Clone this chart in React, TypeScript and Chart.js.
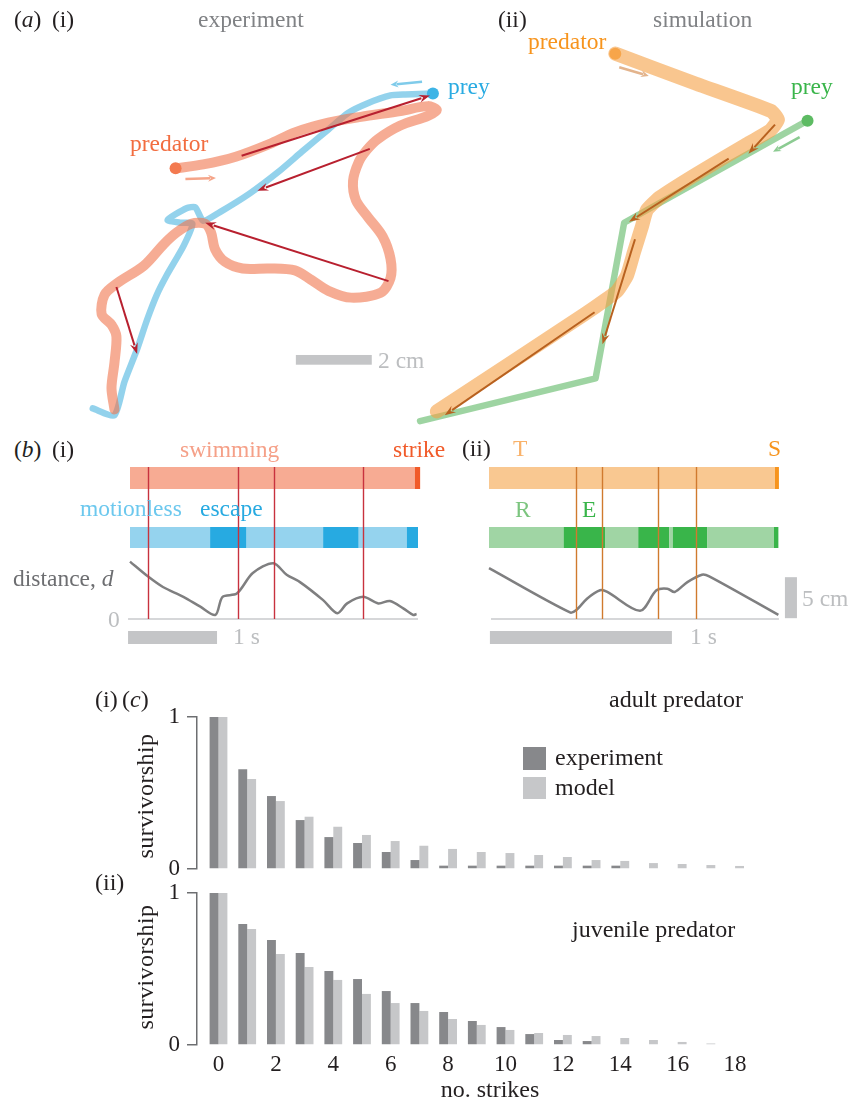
import React, { useEffect, useRef } from "react";
import { Chart, registerables } from "chart.js";

Chart.register(...registerables);

const SERIF = '"Liberation Serif", "Times New Roman", Times, serif';
const INK = "#231F20";
const GREY_TEXT = "#808285";
const LIGHT_TEXT = "#BCBEC0";
const SCALEBAR = "#C4C5C7";

// ================= (a) trajectories (video-frame coordinates, px) =================
const expPredatorPath = [
  [172, 167], [200, 163], [233, 155], [267, 142], [293, 130], [327, 120], [360, 114], [400, 108],
  [428, 103], [437, 107], [428, 113], [400, 123], [377, 137], [366, 148], [358, 160], [352, 180],
  [355, 200], [367, 217], [382, 237], [390, 260], [390, 280], [380, 295], [350, 300], [327, 293],
  [310, 282], [293, 272], [267, 270], [240, 270], [222, 263], [212, 250], [208, 233], [202, 224],
  [188, 224], [173, 233], [160, 245], [140, 267], [113, 285], [100, 297], [97, 317], [107, 328],
  [112, 340], [110, 367], [107, 393], [110, 415],
];
const expPreyPath = [
  [433, 90], [405, 91], [390, 92], [367, 100], [347, 110], [327, 127], [300, 150], [277, 170],
  [247, 193], [217, 212], [200, 221], [192, 207], [183, 208], [164, 220], [177, 223], [189, 224],
  [180, 247], [163, 277], [153, 297], [143, 323], [133, 353], [120, 387], [110, 421], [88, 414],
];
const simPredatorPath = [
  [618, 49], [700, 80], [776, 108], [783, 117], [775, 128], [750, 143], [700, 173], [663, 197],
  [650, 210], [645, 227], [637, 253], [630, 277], [620, 293], [607, 303], [587, 317], [437, 417],
];
const simPreyPath = [[813, 118], [627, 223], [598, 383], [420, 427]];

// strike arrows [x0, y0, x1, y1]
const expStrikeArrows = [[239, 154, 430, 92], [369, 147, 255, 190], [388, 283, 202, 223], [112, 289, 133, 358]];
const simStrikeArrows = [[780, 122, 753, 152], [733, 157, 632, 222], [638, 240, 605, 348], [597, 315, 445, 421]];
// heading arrows
const expPredatorHeading = [182, 178, 213, 177];
const expPreyHeading = [422, 78, 390, 81];
const simPredatorHeading = [622, 63, 652, 72];
const simPreyHeading = [805, 135, 778, 150];
// 2 cm scale bar, frame px
const lengthBar = [294, 359, 371, 369];

// ================= (b) timelines =================
const expPredStateTimes = [0, 3.2, 3.26];
const expPredStates = ["swimming", "strike"];
const expPreyStateTimes = [0, 0.9, 1.31, 2.17, 2.57, 3.11, 3.236];
const expPreyStates = ["motionless", "escape", "motionless", "escape", "motionless", "escape"];
const expStrikeTimes = [0.2, 1.21, 1.62, 2.62];
const expTime = [0, 0.2, 0.37, 0.6, 0.79, 0.96, 1.04, 1.2, 1.38, 1.61, 1.76, 1.91, 2.17, 2.33, 2.44, 2.62, 2.79, 2.92, 3.07, 3.18, 3.22];
const expDistance = [7.0, 5.2, 3.9, 2.7, 1.5, 0.5, 2.7, 3.1, 5.6, 6.8, 5.4, 4.5, 2.3, 0.7, 1.9, 2.7, 1.9, 2.2, 1.3, 0.5, 0.6];

const simPredStateTimes = [0, 1.571, 1.593];
const simPredStates = ["T", "S"];
const simPreyStateTimes = [0, 0.41, 0.64, 0.82, 0.99, 1.01, 1.2, 1.566, 1.59];
const simPreyStates = ["R", "E", "R", "E", "R", "E", "R", "E"];
const simStrikeTimes = [0.48, 0.62, 0.93, 1.14];
const simTime = [0, 0.445, 0.48, 0.54, 0.61, 0.65, 0.83, 0.92, 0.98, 1.02, 1.09, 1.17, 1.21, 1.59];
const simDistance = [6.2, 0.8, 1.1, 2.5, 3.5, 3.3, 1.0, 3.5, 3.7, 3.3, 4.5, 5.4, 5.2, 0.5];

// ================= (c) survivorship =================
const strikeCounts = [0, 1, 2, 3, 4, 5, 6, 7, 8, 9, 10, 11, 12, 13, 14, 15, 16, 17, 18, 19];
const strikeTickValues = [0, 2, 4, 6, 8, 10, 12, 14, 16, 18];
const adultExperiment = [1, 0.656, 0.48, 0.322, 0.21, 0.171, 0.112, 0.059, 0.022, 0.022, 0.022, 0.022, 0.022, 0.022, 0.022, 0, 0, 0, 0, 0];
const adultModel = [1, 0.592, 0.447, 0.344, 0.278, 0.224, 0.184, 0.153, 0.132, 0.112, 0.105, 0.092, 0.079, 0.059, 0.053, 0.039, 0.033, 0.026, 0.02, 0.005];
const juvenileExperiment = [1, 0.796, 0.691, 0.605, 0.487, 0.434, 0.355, 0.276, 0.217, 0.158, 0.118, 0.072, 0.033, 0.026, 0, 0, 0, 0, 0, 0];
const juvenileModel = [1, 0.763, 0.599, 0.513, 0.428, 0.336, 0.276, 0.224, 0.171, 0.132, 0.099, 0.079, 0.066, 0.059, 0.046, 0.033, 0.02, 0.01, 0.005, 0.005];

// ================= helpers =================
function drawArrow(ctx: CanvasRenderingContext2D, x0: number, y0: number, x1: number, y1: number, color: string, width: number, headLen: number, headHalf: number) {
  const ang = Math.atan2(y1 - y0, x1 - x0);
  const bx = x1 - headLen * Math.cos(ang);
  const by = y1 - headLen * Math.sin(ang);
  ctx.save();
  ctx.strokeStyle = color;
  ctx.fillStyle = color;
  ctx.lineWidth = width;
  ctx.lineCap = "butt";
  ctx.beginPath();
  ctx.moveTo(x0, y0);
  ctx.lineTo(bx + 2 * Math.cos(ang), by + 2 * Math.sin(ang));
  ctx.stroke();
  ctx.beginPath();
  ctx.moveTo(x1, y1);
  ctx.lineTo(bx + headHalf * Math.sin(ang), by - headHalf * Math.cos(ang));
  ctx.lineTo(bx + 0.35 * headLen * Math.cos(ang), by + 0.35 * headLen * Math.sin(ang));
  ctx.lineTo(bx - headHalf * Math.sin(ang), by + headHalf * Math.cos(ang));
  ctx.closePath();
  ctx.fill();
  ctx.restore();
}

const baseOptions = {
  animation: false,
  responsive: false,
  maintainAspectRatio: false,
  devicePixelRatio: 1,
  events: [],
};

function ChartBox({ left, top, width, height, config }: any) {
  const ref = useRef<HTMLCanvasElement>(null);
  useEffect(() => {
    const chart = new Chart(ref.current as HTMLCanvasElement, config());
    return () => chart.destroy();
  }, []);
  return (
    <canvas
      ref={ref}
      width={width}
      height={height}
      style={{ position: "absolute", left, top, width, height, display: "block" }}
    />
  );
}

// ================= (a) config =================
const FRAME_W = 851;
const FRAME_H = 430;

function trajectoryConfig() {
  const path = (pts: number[][], color: string, width: number, dot: string, tension: number) => ({
    data: pts.map(([x, y]) => ({ x, y })),
    showLine: true,
    borderColor: color,
    borderWidth: width,
    borderCapStyle: "round",
    borderJoinStyle: "round",
    tension,
    pointRadius: (c: any) => (c.dataIndex === 0 ? 6 : 0),
    pointBackgroundColor: dot,
    pointBorderWidth: 0,
    pointHoverRadius: 0,
    clip: false,
  });
  const arrows = {
    id: "trajectoryArrows",
    afterDatasetsDraw(chart: any) {
      const ctx = chart.ctx;
      const X = (v: number) => chart.scales.x.getPixelForValue(v);
      const Y = (v: number) => chart.scales.y.getPixelForValue(v);
      const [bx0, by0, bx1, by1] = lengthBar;
      ctx.fillStyle = SCALEBAR;
      ctx.fillRect(X(bx0), Y(by0), X(bx1) - X(bx0), Y(by1) - Y(by0));
      const heading = (a: number[], color: string) => drawArrow(ctx, X(a[0]), Y(a[1]), X(a[2]), Y(a[3]), color, 2.6, 8, 3.5);
      heading(expPredatorHeading, "#F5A589");
      heading(expPreyHeading, "#7FCBEA");
      heading(simPredatorHeading, "#E3B48D");
      heading(simPreyHeading, "#8CCB92");
      expStrikeArrows.forEach((a) => drawArrow(ctx, X(a[0]), Y(a[1]), X(a[2]), Y(a[3]), "#B8202F", 2, 11, 4));
      simStrikeArrows.forEach((a) => drawArrow(ctx, X(a[0]), Y(a[1]), X(a[2]), Y(a[3]), "#B8611F", 2, 11, 4));
    },
  };
  return {
    type: "scatter",
    data: {
      datasets: [
        path(expPredatorPath, "rgba(240,117,77,0.6)", 10, "#F37A50", 0.3),
        path(expPreyPath, "rgba(75,180,223,0.6)", 6.5, "#3DB4E6", 0.2),
        path(simPredatorPath, "rgba(245,160,68,0.6)", 14, "#F7A54A", 0.15),
        path(simPreyPath, "rgba(93,183,100,0.6)", 6.5, "#5DBB63", 0),
      ],
    },
    options: {
      ...baseOptions,
      layout: { padding: 0 },
      plugins: { legend: { display: false }, tooltip: { enabled: false } },
      scales: {
        x: { type: "linear", min: 0, max: FRAME_W, display: false },
        y: { type: "linear", min: 0, max: FRAME_H, reverse: true, display: false },
      },
    },
    plugins: [arrows],
  };
}

// ================= (b) config =================
const B_I = { left: 100, top: 440, width: 345, height: 215, t0: 130, pxPerSec: 89, d0: 619, pxPerCm: 8.2 };
const B_II = { left: 460, top: 440, width: 391, height: 215, t0: 489, pxPerSec: 182, d0: 619, pxPerCm: 8.2 };

function timelineConfig(L: any, s: any) {
  const xMin = (L.left - L.t0) / L.pxPerSec;
  const xMax = xMin + L.width / L.pxPerSec;
  const yMax = (L.d0 - L.top) / L.pxPerCm;
  const yMin = yMax - L.height / L.pxPerCm;
  const lane = (px: number) => (L.d0 - px) / L.pxPerCm;
  const predLane = lane(478);
  const preyLane = lane(537.5);
  const laneDs = (times: number[], states: string[], colors: any, y: number, thick: number) => ({
    data: times.map((t) => ({ x: t, y })),
    showLine: true,
    borderWidth: thick,
    borderCapStyle: "butt",
    borderJoinStyle: "miter",
    pointRadius: 0,
    tension: 0,
    borderColor: colors[states[0]],
    segment: { borderColor: (c: any) => colors[states[c.p0DataIndex]] },
    clip: false,
  });
  const extras = {
    id: "timelineExtras",
    beforeDatasetsDraw(chart: any) {
      const ctx = chart.ctx;
      const X = (v: number) => chart.scales.x.getPixelForValue(v);
      const Y = (v: number) => chart.scales.y.getPixelForValue(v);
      ctx.save();
      ctx.strokeStyle = "#C9CACC";
      ctx.lineWidth = 1.5;
      ctx.beginPath();
      ctx.moveTo(X(s.baseline[0]), Y(0));
      ctx.lineTo(X(s.baseline[1]), Y(0));
      ctx.stroke();
      ctx.fillStyle = SCALEBAR;
      s.rects.forEach((r: number[]) => {
        const x0 = X(r[0]), x1 = X(r[1]), y0 = Y(r[2]), y1 = Y(r[3]);
        ctx.fillRect(Math.min(x0, x1), Math.min(y0, y1), Math.abs(x1 - x0), Math.abs(y1 - y0));
      });
      ctx.restore();
    },
    afterDatasetsDraw(chart: any) {
      const ctx = chart.ctx;
      const X = (v: number) => chart.scales.x.getPixelForValue(v);
      const Y = (v: number) => chart.scales.y.getPixelForValue(v);
      const top = Y(predLane) - 11;
      ctx.save();
      ctx.strokeStyle = s.eventColor;
      ctx.lineWidth = 1.4;
      s.events.forEach((t: number) => {
        ctx.beginPath();
        ctx.moveTo(Math.round(X(t)) + 0.5, top);
        ctx.lineTo(Math.round(X(t)) + 0.5, Y(0));
        ctx.stroke();
      });
      ctx.restore();
    },
  };
  return {
    type: "scatter",
    data: {
      datasets: [
        laneDs(s.predTimes, s.predStates, s.predColors, predLane, 22),
        laneDs(s.preyTimes, s.preyStates, s.preyColors, preyLane, 21),
        {
          data: s.time.map((t: number, i: number) => ({ x: t, y: s.dist[i] })),
          showLine: true,
          borderColor: "#7F7F80",
          borderWidth: 2.5,
          pointRadius: 0,
          tension: 0.3,
          borderJoinStyle: "round",
        },
      ],
    },
    options: {
      ...baseOptions,
      layout: { padding: 0 },
      plugins: { legend: { display: false }, tooltip: { enabled: false } },
      scales: {
        x: { type: "linear", min: xMin, max: xMax, display: false },
        y: { type: "linear", min: yMin, max: yMax, display: false },
      },
    },
    plugins: [extras],
  };
}

const expTimeline = () =>
  timelineConfig(B_I, {
    predTimes: expPredStateTimes,
    predStates: expPredStates,
    predColors: { swimming: "#F7AB93", strike: "#F15A29" },
    preyTimes: expPreyStateTimes,
    preyStates: expPreyStates,
    preyColors: { motionless: "#95D3EE", escape: "#27AAE1" },
    events: expStrikeTimes,
    eventColor: "#C8323E",
    time: expTime,
    dist: expDistance,
    baseline: [-0.022, 3.236],
    rects: [[-0.022, 0.978, (619 - 631) / 8.2, (619 - 644) / 8.2]],
  });

const simTimeline = () =>
  timelineConfig(B_II, {
    predTimes: simPredStateTimes,
    predStates: simPredStates,
    predColors: { T: "#F9C891", S: "#F7941D" },
    preyTimes: simPreyStateTimes,
    preyStates: simPreyStates,
    preyColors: { R: "#A0D5A4", E: "#39B54A" },
    events: simStrikeTimes,
    eventColor: "#D07A2E",
    time: simTime,
    dist: simDistance,
    baseline: [0.011, 1.593],
    rects: [
      [0.005, 1.005, (619 - 631) / 8.2, (619 - 644) / 8.2],
      [1.626, 1.692, 0.1, 5.1],
    ],
  });

// ================= (c) config =================
const C = { left: 100, width: 700, axisX: 197, cat0: 218.5, catStep: 28.7, maxValue: 19.6 };
const AXIS = "#6D6E71";

function survivalConfig(exp: number[], model: number[], showX: boolean, padTop: number, padBottom: number) {
  const xMin = -(C.cat0 - C.axisX) / C.catStep;
  const rightPx = C.axisX + (C.maxValue - xMin) * C.catStep;
  const padRight = C.left + C.width - rightPx;
  const bars = (vals: number[], color: string, label: string) => ({
    label,
    data: strikeCounts.map((n, i) => ({ x: n, y: vals[i] })),
    backgroundColor: color,
    categoryPercentage: 0.62,
    barPercentage: 1,
    borderWidth: 0,
  });
  return {
    type: "bar",
    data: { datasets: [bars(exp, "#87888B", "experiment"), bars(model, "#C6C7C9", "model")] },
    options: {
      ...baseOptions,
      layout: { padding: { top: padTop, bottom: padBottom, left: 0, right: padRight } },
      plugins: { legend: { display: false }, tooltip: { enabled: false } },
      scales: {
        x: {
          type: "linear",
          min: xMin,
          max: C.maxValue,
          bounds: "data",
          offset: false,
          display: showX,
          grid: { display: false, drawTicks: false, offset: false },
          border: { display: false },
          ticks: { font: { family: SERIF, size: 23 }, color: INK, padding: 6, maxRotation: 0, autoSkip: false },
          afterBuildTicks: (ax: any) => {
            ax.ticks = strikeTickValues.map((v) => ({ value: v }));
          },
          afterFit: (ax: any) => {
            ax.height = showX ? 56 : 0;
          },
        },
        y: {
          type: "linear",
          min: 0,
          max: 1,
          bounds: "data",
          grid: { drawOnChartArea: false, drawTicks: true, tickLength: 10, color: AXIS, lineWidth: 1.5 },
          border: { display: true, color: AXIS, width: 1.5 },
          ticks: { font: { family: SERIF, size: 23 }, color: INK, padding: 7 },
          afterBuildTicks: (ax: any) => {
            ax.ticks = [{ value: 0 }, { value: 1 }];
          },
          afterFit: (ax: any) => {
            ax.width = C.axisX - C.left;
          },
        },
      },
    },
  };
}

// ================= text =================
function T({ x, b, size = 23.5, color = INK, anchor = "start", children }: any) {
  return (
    <div
      style={{
        position: "absolute",
        left: x,
        top: b - 0.8375 * size,
        fontSize: size,
        lineHeight: `${size}px`,
        fontFamily: SERIF,
        color,
        whiteSpace: "nowrap",
        transform: anchor === "middle" ? "translateX(-50%)" : undefined,
      }}
    >
      {children}
    </div>
  );
}

function VLabel({ cx, cy, children }: any) {
  return (
    <div
      style={{
        position: "absolute",
        left: cx,
        top: cy,
        fontSize: 24,
        lineHeight: "24px",
        fontFamily: SERIF,
        color: INK,
        whiteSpace: "nowrap",
        transform: "translate(-50%, -50%) rotate(-90deg)",
        letterSpacing: 0.4,
      }}
    >
      {children}
    </div>
  );
}

function Swatch({ x, y, w, h, color }: any) {
  return <div style={{ position: "absolute", left: x, top: y, width: w, height: h, background: color }} />;
}

export default function App() {
  useEffect(() => {
    document.body.style.margin = "0";
  }, []);
  return (
    <div style={{ position: "absolute", left: 0, top: 0, width: 851, height: 1101, background: "#fff", overflow: "hidden" }}>
      <ChartBox left={0} top={0} width={FRAME_W} height={FRAME_H} config={trajectoryConfig} />
      <ChartBox left={B_I.left} top={B_I.top} width={B_I.width} height={B_I.height} config={expTimeline} />
      <ChartBox left={B_II.left} top={B_II.top} width={B_II.width} height={B_II.height} config={simTimeline} />
      <ChartBox left={C.left} top={690} width={C.width} height={215} config={() => survivalConfig(adultExperiment, adultModel, false, 27, 36)} />
      <ChartBox left={C.left} top={870} width={C.width} height={231} config={() => survivalConfig(juvenileExperiment, juvenileModel, true, 23, 0)} />

      {/* (a) */}
      <T x={14} b={28}>(<i>a</i>)</T>
      <T x={52} b={28}>(i)</T>
      <T x={198} b={28} color={GREY_TEXT}>experiment</T>
      <T x={498} b={28}>(ii)</T>
      <T x={653} b={28} color={GREY_TEXT}>simulation</T>
      <T x={130} b={152} color="#F26D40">predator</T>
      <T x={448} b={95} color="#29ABE2">prey</T>
      <T x={528} b={50} color="#F7941D">predator</T>
      <T x={791} b={95} color="#39B54A">prey</T>
      <T x={378} b={369} color={LIGHT_TEXT}>2 cm</T>

      {/* (b) */}
      <T x={14} b={458}>(<i>b</i>)</T>
      <T x={52} b={458}>(i)</T>
      <T x={180} b={458} color="#F5A088">swimming</T>
      <T x={393} b={458} color="#F15A29">strike</T>
      <T x={80} b={517} color="#6CC8EE">motionless</T>
      <T x={200} b={517} color="#27AAE1">escape</T>
      <T x={13} b={587} color="#6D6E71">distance, <i>d</i></T>
      <T x={108} b={628} color={LIGHT_TEXT}>0</T>
      <T x={233} b={645} color={LIGHT_TEXT}>1 s</T>
      <T x={462} b={457}>(ii)</T>
      <T x={513} b={457} color="#F9B26A">T</T>
      <T x={768} b={457} color="#F7941D">S</T>
      <T x={515} b={518} color="#7CC57F">R</T>
      <T x={582} b={518} color="#39B54A">E</T>
      <T x={690} b={645} color={LIGHT_TEXT}>1 s</T>
      <T x={802} b={607} color={LIGHT_TEXT}>5 cm</T>

      {/* (c) */}
      <T x={95} b={707} size={24}>(i)</T>
      <T x={122} b={707} size={24}>(<i>c</i>)</T>
      <T x={609} b={707} size={24}>adult predator</T>
      <Swatch x={523} y={747} w={23} h={23} color="#87888B" />
      <Swatch x={523} y={777} w={23} h={22} color="#C6C7C9" />
      <T x={555} b={765} size={24}>experiment</T>
      <T x={555} b={795} size={24}>model</T>
      <T x={95} b={890} size={24}>(ii)</T>
      <T x={572} b={937} size={24}>juvenile predator</T>
      <VLabel cx={145} cy={796}>survivorship</VLabel>
      <VLabel cx={145} cy={967}>survivorship</VLabel>
      <T x={490} b={1097} size={24} anchor="middle">no. strikes</T>
    </div>
  );
}
